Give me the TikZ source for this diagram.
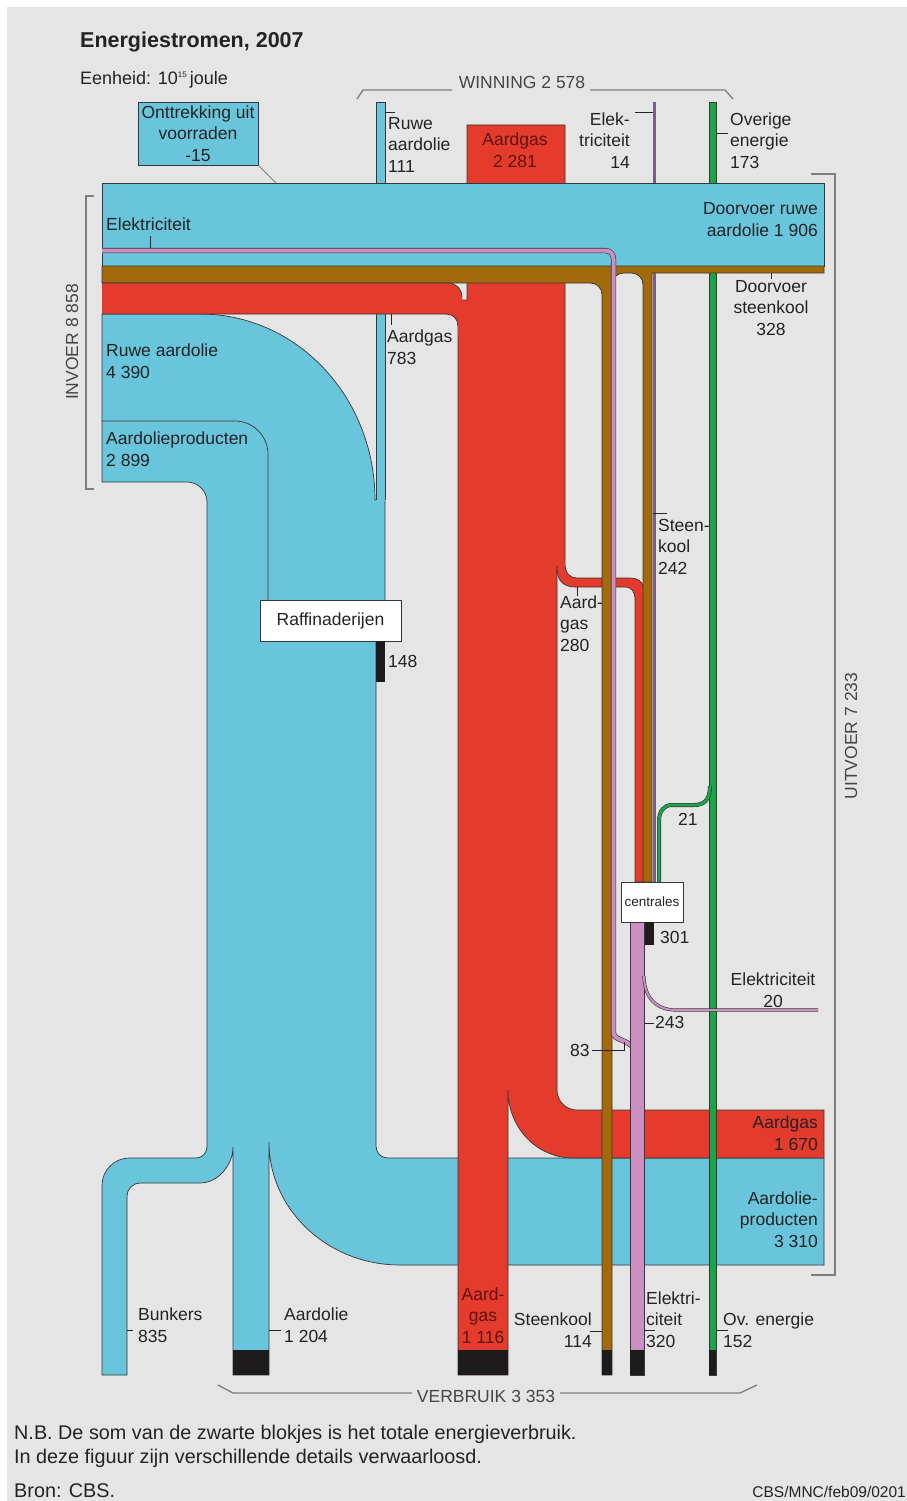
\documentclass[tikz,border=0pt]{standalone}
\usepackage{fontspec}
\setmainfont{Liberation Sans}
\definecolor{achter}{RGB}{230,229,229}
\definecolor{blauw}{RGB}{104,197,219}
\definecolor{rood}{RGB}{228,59,44}
\definecolor{donkerrood}{RGB}{95,20,15}
\definecolor{bruin}{RGB}{162,106,10}
\definecolor{roze}{RGB}{203,143,194}
\definecolor{paars}{RGB}{125,92,135}
\definecolor{groen}{RGB}{26,165,72}
\definecolor{zwart}{RGB}{30,27,29}
\definecolor{rand}{RGB}{55,55,55}
\definecolor{haak}{RGB}{125,125,125}
\definecolor{grijs}{RGB}{70,70,70}
\definecolor{tekst}{RGB}{35,35,35}
\newcommand{\lblfont}{\fontsize{17.5}{21.5}\selectfont}
\newcommand{\kopfont}{\fontsize{21.5}{26}\selectfont\bfseries}
\newcommand{\voetfont}{\fontsize{19.8}{23.5}\selectfont}
\newcommand{\kleinfont}{\fontsize{13.5}{16}\selectfont}
\tikzset{
    flowb/.style = {fill=blauw, draw=rand, line width=0.7pt},
    flowr/.style = {fill=rood, draw=rand, line width=0.7pt},
    flowbr/.style = {fill=bruin, draw=rand, line width=0.7pt},
    flowg/.style = {fill=groen, draw=rand, line width=0.7pt},
    flowp/.style = {fill=roze, draw=rand, line width=0.7pt},
    randlijn/.style = {draw=rand, line width=0.7pt},
    lijnroze/.style = {draw=rand, line width=0.6pt, double=roze, double distance=4pt},
    lijngroen/.style = {draw=rand, line width=0.6pt, double=groen, double distance=2.8pt},
    tick/.style = {draw=tekst, line width=0.6pt},
    haakje/.style = {draw=haak, line width=1.3pt},
    doos/.style = {rectangle, draw=rand, line width=0.8pt, fill=white, inner sep=0pt, text=tekst, font=\lblfont, align=center},
    lbl/.style = {inner sep=0pt, text=tekst, font=\lblfont, anchor=base west, align=left},
    lblr/.style = {lbl, anchor=base east, align=right},
    lblc/.style = {lbl, anchor=base, align=center}
}
\begin{document}
\begin{tikzpicture}[x=1pt,y=-1pt]
\useasboundingbox (0,0) rectangle (907,1501);
\fill[white] (0,0) rectangle (907,1501);
\fill[achter] (7,7) rectangle (907,1501);

% ruwe aardolie en aardolieproducten
\path[flowb] (102,314) -- (200,314)
  .. controls (297,314) and (375,397) .. (375,500)
  -- (385,500) -- (385,641) -- (376,641) -- (376,1146)
  .. controls (376,1153) and (381,1158) .. (388,1158)
  -- (824,1158) -- (824,1265) -- (400,1265)
  .. controls (328,1265) and (269,1210) .. (269,1142)
  -- (269,1375) -- (233,1375) -- (233,1147)
  .. controls (233,1165) and (218,1183) .. (200,1183)
  -- (140,1183) .. controls (133,1183) and (127,1189) .. (127,1196)
  -- (127,1375) -- (102,1375) -- (102,1186)
  .. controls (102,1170) and (114,1158) .. (130,1158)
  -- (196,1158) .. controls (202,1158) and (207,1153) .. (207,1147)
  -- (207,502) .. controls (207,491) and (198,482) .. (187,482)
  -- (102,482) -- cycle;
\draw[randlijn] (102,421) -- (235,421) .. controls (253,421) and (268,436) .. (268,454) -- (268,600);
\fill[blauw] (376,102) rectangle (385,501);
\draw[randlijn] (376,500) -- (376,102) -- (385,102) -- (385,500);

% aardgas
\path[flowr] (467,125) -- (565,125) -- (565,563) -- (557,563) -- (557,1090)
  .. controls (557,1101) and (566,1110) .. (577,1110)
  -- (824,1110) -- (824,1158) -- (573,1158)
  .. controls (537,1158) and (508,1128) .. (508,1090)
  -- (508,1375) -- (458,1375) -- (458,300) -- (467,300) -- cycle;
\path[flowr] (557,563) -- (565,563) .. controls (565,573) and (569,578) .. (578,578)
  -- (630,578) .. controls (640,578) and (645,584) .. (645,596) -- (645,882)
  -- (635,882) -- (635,600) .. controls (635,592) and (632,587) .. (625,587)
  -- (575,587) .. controls (563,587) and (557,580) .. (557,568) -- cycle;
\fill[rood] (545,561) rectangle (565,566);

\draw[paars, line width=3pt] (654.5,102) -- (654.5,882);
\path[flowg] (709,102) rectangle (716,1375);

% doorvoer ruwe aardolie
\path[flowb] (102,183) rectangle (824,266);

% steenkool
\path[flowbr] (102,266) -- (824,266) -- (824,273) -- (652,273) -- (652,882) -- (643,882)
  -- (643,285) .. controls (643,278) and (638,273) .. (631,273)
  -- (624,273) .. controls (617,273) and (612,278) .. (612,285)
  -- (612,1375) -- (602,1375)
  -- (602,295) .. controls (602,288) and (597,283) .. (590,283)
  -- (102,283) -- cycle;

% invoer aardgas
\fill[rood] (102,283) -- (448,283) .. controls (456,283) and (462,289) .. (462,297) -- (462,335)
  -- (458,335) -- (458,326) .. controls (458,319) and (453,314) .. (446,314) -- (102,314) -- cycle;
\draw[randlijn] (102,283) -- (448,283) .. controls (456,283) and (462,289) .. (462,297);
\draw[randlijn] (102,314) -- (446,314) .. controls (453,314) and (458,319) .. (458,326);

% elektriciteit
\draw[lijnroze] (102,250.5) -- (605,250.5) .. controls (610,250.5) and (613.5,254) .. (613.5,259)
  -- (613.5,1032) .. controls (613.5,1040) and (622,1038) .. (632,1046);
\draw[lijngroen] (710,786) .. controls (710,800) and (704,805) .. (694,805) -- (672,805)
  .. controls (664,805) and (659,811) .. (659,821) -- (659,882);
\path[flowp] (630,922) rectangle (644,1375);
\draw[lijnroze, double distance=2pt] (644,976) .. controls (644,996) and (655,1010) .. (676,1010) -- (818,1010);

% kaders
\node[doos, fill=blauw, minimum width=120pt, minimum height=63pt] (ontt) at (198,133.5) {Onttrekking uit\\voorraden\\-15};
\coordinate (balk) at (276,183);
\draw[haakje, line width=0.9pt] (ontt.south east) -- (balk);
\node[doos, minimum width=141pt, minimum height=41pt] (raff) at (330.5,620.5) {Raffinaderijen};
\node[doos, font=\kleinfont, minimum width=62pt, minimum height=40pt] (centrales) at (652,902) {centrales};

% zwarte blokjes
\foreach \xa/\ya/\xb/\yb in {376/641/385/682, 645/922/654/945, 233/1350/269/1375, 458/1350/508/1375,
    602/1350/612/1375, 630/1350/644/1375, 709/1350/716/1375}
  \fill[zwart] (\xa,\ya) rectangle (\xb,\yb);

% haakjes
\draw[haakje] (357,99) -- (363,90) -- (452,90);
\draw[haakje] (590,90) -- (725,90) -- (733,99);
\draw[haakje] (94,196) -- (86,196) -- (86,489) -- (94,489);
\draw[haakje] (811,174) -- (835,174) -- (835,1275) -- (811,1275);
\draw[haakje] (218,1385) -- (233,1393) -- (412,1393);
\draw[haakje] (560,1393) -- (740,1393) -- (757,1385);

% streepjes
\draw[tick] (385,112) -- (395,112);
\draw[tick] (635,112) -- (653,112);
\draw[tick] (717,133) -- (728,133);
\draw[tick] (771,273) -- (771,279);
\draw[tick] (150,236) -- (150,248);
\draw[tick] (391,314) -- (391,325);
\draw[tick] (653,513) -- (667,513);
\draw[tick] (577,587) -- (577,596);
\draw[tick] (645,1023) -- (654,1023);
\draw[tick] (592,1050) -- (624,1050) -- (624,1042);
\draw[tick] (127,1330) -- (133,1330);
\draw[tick] (269,1330) -- (281,1330);
\draw[tick] (590,1331) -- (602,1331);
\draw[tick] (644,1330) -- (655,1330);
\draw[tick] (717,1330) -- (728,1330);

% teksten (meerregelig: y is de basislijn van de laatste regel)
\node[lbl, font=\kopfont] (titel) at (80,48) {Energiestromen, 2007};
\node[lbl, font=\fontsize{18}{22}\selectfont] (eenheid) at (80,85) {Eenheid: 10\raisebox{7pt}{\fontsize{8}{8}\selectfont 15}\,joule};
\node[lblc, text=grijs] (winning) at (522,89) {WINNING 2 578};
\node[lbl] (ruwe111) at (388,172) {Ruwe\\aardolie\\111};
\node[lblc, text=donkerrood] (gas2281) at (515,167) {Aardgas\\2 281};
\node[lblr] (elek14) at (630,168) {Elek-\\triciteit\\14};
\node[lbl] (overig173) at (730,168) {Overige\\energie\\173};
\node[lblr] (doorvoer) at (818,236) {Doorvoer ruwe\\aardolie 1 906};
\node[lblc] (kool328) at (771,335) {Doorvoer\\steenkool\\328};
\node[lbl] (elekin) at (106,230) {Elektriciteit};
\node[lbl] (ruwe4390) at (106,378) {Ruwe aardolie\\4 390};
\node[lbl] (prod2899) at (106,466) {Aardolieproducten\\2 899};
\node[lbl, text=grijs, rotate=90, anchor=center] (invoer) at (72,342) {INVOER 8 858};
\node[lbl] (gas783) at (387,364) {Aardgas\\783};
\node[lbl] (raff148) at (388,667) {148};
\node[lbl] (kool242) at (658,574) {Steen-\\kool\\242};
\node[lbl] (gas280) at (560,651) {Aard-\\gas\\280};
\node[lbl, text=grijs, rotate=90, anchor=center] (uitvoer) at (851,736) {UITVOER 7 233};
\node[lbl] (groen21) at (678,825) {21};
\node[lbl] (cent301) at (660,943) {301};
\node[lblc] (elek20) at (773,1007) {Elektriciteit\\20};
\node[lbl] (elek243) at (655,1028) {243};
\node[lbl] (elek83) at (570,1056) {83};
\node[lblr] (gas1670) at (818,1150) {Aardgas\\1 670};
\node[lblr] (prod3310) at (818,1247) {Aardolie-\\producten\\3 310};
\node[lbl] (bunkers) at (138,1342) {Bunkers\\835};
\node[lbl] (olie1204) at (284,1342) {Aardolie\\1 204};
\node[lblc, text=donkerrood] (gas1116) at (483,1343) {Aard-\\gas\\1 116};
\node[lblr] (kool114) at (592,1347) {Steenkool\\114};
\node[lbl] (elek320) at (646,1347) {Elektri-\\citeit\\320};
\node[lbl] (ov152) at (723,1347) {Ov. energie\\152};
\node[lblc, text=grijs] (verbruik) at (486,1402) {VERBRUIK 3 353};
\node[lbl, font=\voetfont] (nb) at (14,1463) {N.B. De som van de zwarte blokjes is het totale energieverbruik.\\In deze figuur zijn verschillende details verwaarloosd.};
\node[lbl, font=\voetfont] (bron) at (14,1497) {Bron: CBS.};
\node[lbl, anchor=base east, font=\fontsize{15.5}{18}\selectfont] (code) at (906,1497) {CBS/MNC/feb09/0201};
\end{tikzpicture}
\end{document}
